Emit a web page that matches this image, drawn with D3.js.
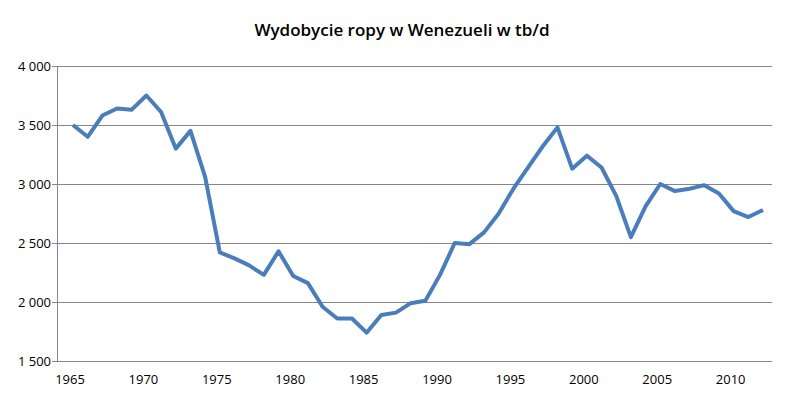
<!DOCTYPE html><html><head><meta charset="utf-8">
<script src="https://cdn.jsdelivr.net/npm/d3@7"></script>
<style>body{margin:0;background:#fff}</style></head><body><svg id="c" width="802" height="407"></svg>
<script>
const years = d3.range(1965, 2013);
const production = [3500,3400,3580,3640,3630,3750,3610,3300,3450,3060,2420,2370,2310,2230,2430,2220,2160,1960,1860,1860,1740,1890,1910,1990,2010,2230,2500,2490,2590,2750,2960,3140,3320,3480,3130,3240,3140,2900,2550,2810,3000,2940,2960,2990,2920,2770,2720,2780];
const yTicks = [1500,2000,2500,3000,3500,4000];
const xLabels = [1965,1970,1975,1980,1985,1990,1995,2000,2005,2010];
const title = "Wydobycie ropy w Wenezueli w tb/d";

const svg = d3.select("#c");
const font = "'Open Sans', 'Liberation Sans', sans-serif";
const L=57, R=772, T=66, B=361;
const x = d3.scaleLinear().domain([1965,2012]).range([73,763]);
const y = d3.scaleLinear().domain([1500,4000]).range([B,T]);
const fmt = v => d3.format(",")(v).replace(",", " ");

svg.append("text").attr("x",402).attr("y",36).attr("text-anchor","middle")
  .attr("font-family",font).attr("font-size",17).attr("font-weight",600).attr("fill","#000").text(title);

svg.append("g").selectAll("line").data(yTicks).join("line")
  .attr("x1",L).attr("x2",R).attr("y1",d=>y(d)).attr("y2",d=>y(d))
  .attr("stroke","#868686").attr("stroke-width",1).attr("shape-rendering","crispEdges");
svg.append("line").attr("x1",L).attr("x2",L).attr("y1",T).attr("y2",B).attr("stroke","#868686").attr("shape-rendering","crispEdges");
svg.append("g").selectAll("line").data(yTicks).join("line")
  .attr("x1",L-5).attr("x2",L).attr("y1",d=>y(d)).attr("y2",d=>y(d)).attr("stroke","#868686").attr("shape-rendering","crispEdges");
svg.append("g").selectAll("text").data(yTicks).join("text")
  .attr("x",L-6).attr("y",d=>y(d)+5).attr("text-anchor","end")
  .attr("font-family",font).attr("font-size",13).text(fmt);
svg.append("g").selectAll("text").data(xLabels).join("text")
  .attr("x",d=>x(d)-3).attr("y",B+23).attr("text-anchor","middle")
  .attr("font-family",font).attr("font-size",13).text(d=>d);

svg.append("path").datum(years.map((yr,i)=>[yr,production[i]]))
  .attr("d",d3.line().x(d=>x(d[0])).y(d=>y(d[1])))
  .attr("fill","none").attr("stroke","#4a7ebb").attr("stroke-width",4).attr("stroke-linejoin","round");
</script></body></html>
